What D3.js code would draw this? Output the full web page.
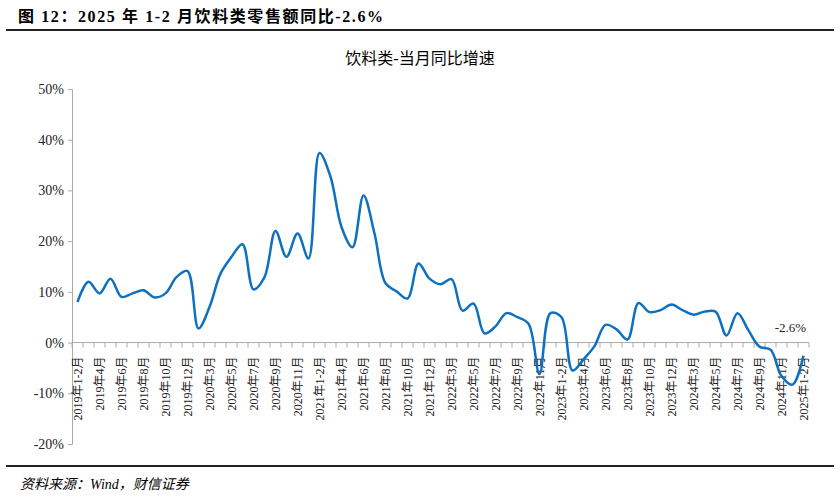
<!DOCTYPE html>
<html>
<head>
<meta charset="utf-8">
<script src="https://cdn.jsdelivr.net/npm/d3@7"></script>
<style>
body { margin: 0; background: #fff; }
text { font-family: "Liberation Serif", "Times New Roman", "Noto Sans CJK SC", serif; }
</style>
</head>
<body>
<div id="chart"></div>
<script>
// months: Jan-Feb combined, then 3..12
const years = [2019, 2020, 2021, 2022, 2023, 2024, 2025];
const monthsPerYear = ["1-2", "3", "4", "5", "6", "7", "8", "9", "10", "11", "12"];
const categories = [];
years.forEach(y => monthsPerYear.forEach(m => {
    if (y < 2025 || m === "1-2") categories.push(`${y}年${m}月`);
}));

const values = [
    8.0, 12.0, 9.7, 12.6, 9.0, 9.7, 10.3, 8.9, 9.7, 12.9, 14.1,
    2.8, 7.0, 13.6, 16.9, 19.4, 10.5, 12.9, 22.0, 16.9, 21.5, 16.6,
    37.4, 32.7, 22.8, 18.8, 29.0, 21.5, 11.7, 10.1, 8.7, 15.6, 12.6,
    11.5, 12.5, 6.3, 7.7, 1.8, 3.2, 5.8, 5.0, 3.7, -6.2, 5.8,
    5.0, -5.5, -3.3, -0.7, 3.5, 2.6, 0.6, 7.8, 6.0, 6.4, 7.5,
    6.4, 5.5, 6.1, 6.1, 1.4, 5.8, 2.4, -0.8, -1.4, -6.6, -8.3,
    -2.6
];

const yTicks = [-20, -10, 0, 10, 20, 30, 40, 50];

const W = 840, H = 498;
const margin = { top: 89, left: 72, bottom: 54, right: 31 };
const width = W - margin.left - margin.right;
const height = H - margin.top - margin.bottom;

const root = d3.select("#chart").append("svg")
    .attr("width", W)
    .attr("height", H);

// header / footer
root.append("text")
    .attr("x", 18).attr("y", 22)
    .attr("font-size", "16px").attr("font-weight", "bold")
    .attr("letter-spacing", "1.6px")
    .text("图 12：2025 年 1-2 月饮料类零售额同比-2.6%");
root.append("line").attr("x1", 6).attr("x2", 834).attr("y1", 30).attr("y2", 30)
    .attr("stroke", "#222").attr("stroke-width", 2);
root.append("line").attr("x1", 6).attr("x2", 834).attr("y1", 466).attr("y2", 466)
    .attr("stroke", "#222").attr("stroke-width", 2);
root.append("text")
    .attr("x", 20).attr("y", 489)
    .attr("font-size", "14px").attr("font-style", "italic")
    .text("资料来源：Wind，财信证券");
root.append("text")
    .attr("x", 420).attr("y", 64)
    .attr("text-anchor", "middle")
    .attr("font-size", "16px")
    .attr("font-family", "'Noto Sans CJK SC', sans-serif")
    .text("饮料类-当月同比增速");

const svg = root.append("g")
    .attr("transform", `translate(${margin.left}, ${margin.top})`);

const yScale = d3.scaleLinear()
    .domain([-20, 50])
    .range([height, 0]);

const xScale = d3.scaleBand()
    .domain(categories)
    .range([0, width]);

const yAxis = svg.append("g")
    .call(d3.axisLeft(yScale).tickValues(yTicks).tickSize(4).tickFormat(d => d + "%"));
yAxis.select(".domain").attr("stroke", "#aaa");
yAxis.selectAll(".tick line").attr("stroke", "#aaa");
yAxis.selectAll(".tick text")
    .attr("font-size", "14px")
    .attr("font-family", "'Liberation Serif', serif")
    .attr("fill", "#222")
    .attr("x", -8);

// x axis at zero with ticks between categories
const xg = svg.append("g")
    .attr("transform", `translate(0, ${yScale(0)})`);
xg.append("line")
    .attr("x1", 0).attr("x2", width)
    .attr("stroke", "#aaa");
xg.selectAll("line.tk")
    .data(d3.range(categories.length + 1))
    .join("line")
    .attr("class", "tk")
    .attr("x1", i => i * xScale.step()).attr("x2", i => i * xScale.step())
    .attr("y1", 0).attr("y2", 5)
    .attr("stroke", "#aaa");
xg.selectAll("text")
    .data(categories.filter((d, i) => i % 2 === 0))
    .join("text")
    .attr("transform", d => `translate(${xScale(d) + xScale.bandwidth() / 2 + 4}, 14) rotate(-90)`)
    .attr("text-anchor", "end")
    .attr("font-size", "12px")
    .attr("fill", "#222")
    .text(d => d);

const line = d3.line()
    .x((d, i) => xScale(categories[i]) + xScale.bandwidth() / 2)
    .y(d => yScale(d))
    .curve(d3.curveCatmullRom.alpha(0.5));

svg.append("path")
    .datum(values)
    .attr("fill", "none")
    .attr("stroke", "#0f70c0")
    .attr("stroke-width", 2.5)
    .attr("d", line);

const last = values.length - 1;
svg.append("text")
    .attr("x", xScale(categories[last]) + xScale.bandwidth() / 2 - 13)
    .attr("y", yScale(values[last]) - 24)
    .attr("text-anchor", "middle")
    .attr("font-size", "13px")
    .attr("fill", "#222")
    .text(values[last] + "%");
</script>
</body>
</html>
